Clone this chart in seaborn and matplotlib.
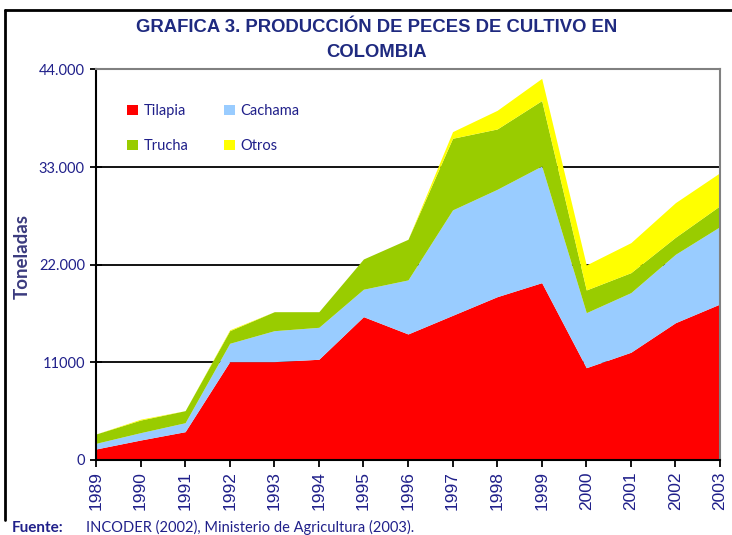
import matplotlib
matplotlib.use("Agg")
import matplotlib.pyplot as plt
import pandas as pd
import seaborn as sns
from matplotlib.lines import Line2D
from matplotlib.patches import Patch

# data (toneladas)
years = [1989, 1990, 1991, 1992, 1993, 1994, 1995, 1996, 1997, 1998, 1999, 2000, 2001, 2002, 2003]
tilapia = [1240, 2250, 3190, 11080, 11080, 11350, 16150, 14200, 16300, 18400, 19980, 10400, 12140, 15470, 17580]
cachama = [640, 830, 1010, 2070, 3490, 3600, 3090, 6090, 11880, 12100, 13150, 6200, 6720, 7710, 8720]
trucha = [1050, 1420, 1360, 1420, 2140, 1760, 3410, 4580, 8070, 6800, 7370, 2560, 2250, 1920, 2360]
otros = [0, 100, 0, 100, 0, 0, 0, 0, 750, 2100, 2500, 2820, 3380, 3900, 3720]

series_names = ["Tilapia", "Cachama", "Trucha", "Otros"]
series_colors = ["#FF0000", "#99CCFF", "#99CC00", "#FFFF00"]

y_ticks = [0, 11000, 22000, 33000, 44000]
y_ticklabels = ["0", "11000", "22.000", "33.000", "44.000"]

navy = "#20208A"

df = pd.DataFrame({"year": years, "Tilapia": tilapia, "Cachama": cachama,
                   "Trucha": trucha, "Otros": otros})

sns.set_theme(style="white")
plt.rcParams["font.family"] = ["Lato", "DejaVu Sans"]

fig = plt.figure(figsize=(7.32, 5.35), dpi=100)
ax = fig.add_axes([0.1311, 0.1402, 0.8525, 0.7299])

ax.stackplot(df["year"], [df[n] for n in series_names], colors=series_colors,
             linewidth=0, zorder=2)

ax.set_xlim(years[0], years[-1])
ax.set_ylim(0, 44000)
ax.set_xticks(years)
ax.set_xticklabels([str(y) for y in years], rotation=90, fontsize=12.5,
                   color=navy, family="Liberation Sans")
ax.set_yticks(y_ticks)
ax.set_yticklabels(y_ticklabels, fontsize=10.5, color=navy)

ax.yaxis.grid(True, color="black", linewidth=1.3, zorder=0)
ax.set_axisbelow(True)

for side in ["left", "bottom"]:
    ax.spines[side].set_color("black")
    ax.spines[side].set_linewidth(1.5)
for side in ["top", "right"]:
    ax.spines[side].set_color("#808080")
    ax.spines[side].set_linewidth(1.5)

ax.tick_params(axis="y", direction="inout", length=8, width=1.3, color="black", pad=4)
ax.tick_params(axis="x", direction="out", length=5, width=1.3, color="black", pad=3)
ax.tick_params(left=True, bottom=True)

ax.set_ylabel("Toneladas", fontsize=13.5, fontweight="bold", color="#3B3B7E")
ax.yaxis.set_label_coords(-0.104, 0.52)

# matplotlib fills legend columns first, so order gives rows Tilapia/Cachama, Trucha/Otros
legend_order = [0, 2, 1, 3]
handles = [Patch(facecolor=series_colors[i], edgecolor="none") for i in legend_order]
labels = [series_names[i] for i in legend_order]
ax.legend(handles, labels, ncol=2, frameon=False, loc="upper left",
          bbox_to_anchor=(0.029, 0.945), fontsize=10.5, labelcolor=navy,
          handlelength=0.75, handleheight=0.75, handletextpad=0.4,
          columnspacing=2.4, labelspacing=1.45)

fig.text(0.514, 0.949, "GRAFICA 3. PRODUCCIÓN DE PECES DE CULTIVO EN",
         ha="center", va="center", fontsize=13.3, fontweight="bold",
         color="#1F2A80", family="Liberation Sans")
fig.text(0.514, 0.901, "COLOMBIA", ha="center", va="center", fontsize=13.3,
         fontweight="bold", color="#1F2A80", family="Liberation Sans")

fig.text(0.016, 0.014, "Fuente:", ha="left", va="center", fontsize=11,
         fontweight="bold", color=navy)
fig.text(0.118, 0.014, "INCODER (2002), Ministerio de Agricultura (2003).",
         ha="left", va="center", fontsize=10.5, color=navy)

# outer frame of the chart
fig.add_artist(Line2D([0.0068, 0.0068], [0.028, 0.9813], color="black", linewidth=2,
                      transform=fig.transFigure))
fig.add_artist(Line2D([0.0068, 1.0], [0.9813, 0.9813], color="black", linewidth=2,
                      transform=fig.transFigure))

fig.savefig("out.png", dpi=100)
plt.close(fig)
